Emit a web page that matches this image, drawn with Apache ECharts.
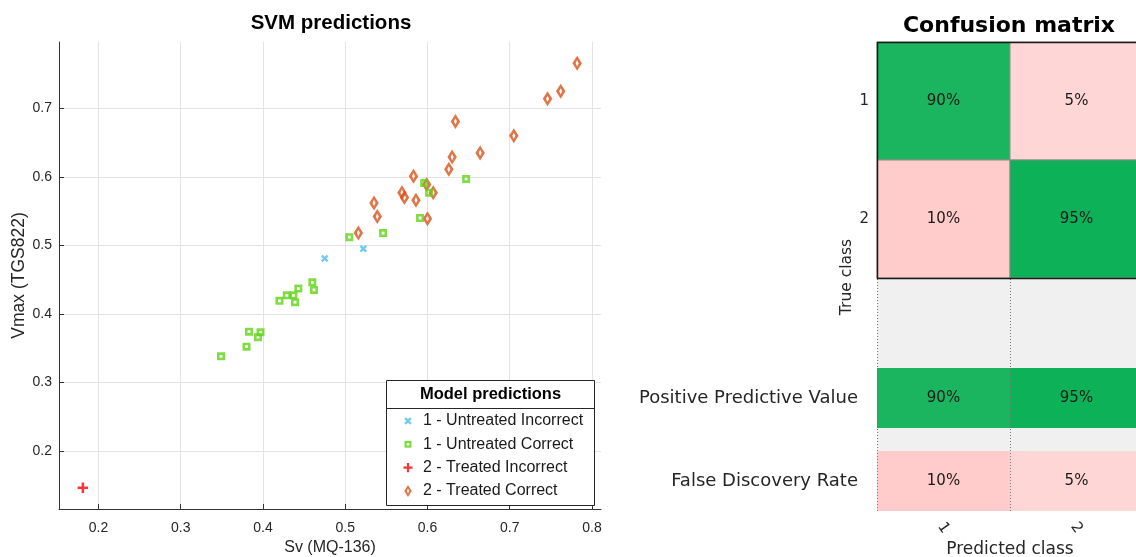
<!DOCTYPE html>
<html>
<head>
<meta charset="utf-8">
<script src="https://cdn.jsdelivr.net/npm/echarts@6/dist/echarts.min.js"></script>
<style>
html, body { margin: 0; padding: 0; background: #fff; }
#main { width: 1136px; height: 557px; }
</style>
</head>
<body>
<div id="main"></div>
<script>
// SVM predictions, [Sv (MQ-136), Vmax (TGS822)]
var untreatedIncorrect = [[0.475, 0.481], [0.522, 0.495]];
var untreatedCorrect = [
  [0.596, 0.591], [0.602, 0.577], [0.647, 0.597], [0.591, 0.540], [0.546, 0.518],
  [0.505, 0.512], [0.460, 0.446], [0.462, 0.435], [0.443, 0.437], [0.437, 0.427],
  [0.429, 0.427], [0.420, 0.419], [0.439, 0.417], [0.383, 0.374], [0.397, 0.373],
  [0.394, 0.366], [0.380, 0.352], [0.349, 0.338]
];
var treatedIncorrect = [[0.181, 0.146]];
var treatedCorrect = [
  [0.782, 0.766], [0.762, 0.725], [0.746, 0.714], [0.634, 0.681], [0.705, 0.660],
  [0.664, 0.635], [0.630, 0.629], [0.626, 0.611], [0.583, 0.601], [0.569, 0.577],
  [0.572, 0.570], [0.599, 0.589], [0.607, 0.577], [0.586, 0.566], [0.535, 0.562],
  [0.539, 0.542], [0.600, 0.539], [0.516, 0.518]
];
var seriesNames = ['1 - Untreated Incorrect', '1 - Untreated Correct', '2 - Treated Incorrect', '2 - Treated Correct'];

// confusion matrix (rows = true class, cols = predicted class), in %
var classLabels = ['1', '2'];
var confusionPct = [[90, 5], [10, 95]];
var ppvPct = [90, 95];
var fdrPct = [10, 5];
var summaryLabels = ['Positive Predictive Value', 'False Discovery Rate'];

var leftFont = 'Liberation Sans, Arial, sans-serif';
var rightFont = 'DejaVu Sans, Verdana, sans-serif';
var ink = '#262626';

// marker shapes as filled outlines (so stroke width does not depend on scaling)
var xShape = 'M0,1.6L1.6,0L3.5,1.9L5.4,0L7,1.6L5.1,3.5L7,5.4L5.4,7L3.5,5.1L1.6,7L0,5.4L1.9,3.5Z';
var plusShape = 'M3.8,0H6.2V3.8H10V6.2H6.2V10H3.8V6.2H0V3.8H3.8Z';
var squareShape = 'M0,0H8V8H0ZM2.6,2.6V5.4H5.4V2.6Z';
var diamondShape = 'M4.5,0L9,7.25L4.5,14.5L0,7.25ZM4.5,4.2L3.1,7.25L4.5,10.3L5.9,7.25Z';

function greenOf(v) {
  var d = 100 - v;
  return 'rgb(' + Math.round(d * 2.6) + ',' + Math.round(173 + d * 0.8) + ',' + Math.round(80 + d * 1.4) + ')';
}
function pinkOf(v) {
  var g = Math.round(225 - v * 2.2);
  return 'rgb(255,' + g + ',' + g + ')';
}

function cellRenderer(stroke) {
  return function (params, api) {
    var c = api.coord([api.value(0), api.value(1)]);
    var s = api.size([1, 1]);
    var v = api.value(2);
    var good = api.value(3) === 1;
    return {
      type: 'group',
      children: [{
        type: 'rect',
        shape: { x: c[0] - s[0] / 2, y: c[1] - s[1] / 2, width: s[0], height: s[1] },
        style: { fill: good ? greenOf(v) : pinkOf(v), stroke: stroke, lineWidth: stroke ? 1 : 0 }
      }, {
        type: 'text',
        style: {
          text: v + '%', x: c[0], y: c[1], align: 'center', verticalAlign: 'middle',
          font: '15px ' + rightFont, fill: '#1a1a1a'
        }
      }]
    };
  };
}

var matrixData = [];
confusionPct.forEach(function (row, r) {
  row.forEach(function (v, c) { matrixData.push([c, r, v, r === c ? 1 : 0]); });
});
var ppvData = ppvPct.map(function (v, c) { return [c, 0, v, 1]; });
var fdrData = fdrPct.map(function (v, c) { return [c, 0, v, 0]; });

function tenths(v) {
  return Math.abs(v * 10 - Math.round(v * 10)) < 1e-6 ? v.toFixed(1) : '';
}

var hiddenCat = {
  type: 'category', data: classLabels, axisLine: { show: false }, axisTick: { show: false },
  axisLabel: { show: false }, splitLine: { show: false }
};

var myChart = echarts.init(document.getElementById('main'));
var option = {
  animation: false,
  backgroundColor: '#fff',
  title: [{
    text: 'SVM predictions', left: 331, top: 13, padding: 0, textAlign: 'center',
    textStyle: { fontFamily: leftFont, fontSize: 20.5, fontWeight: 'bold', color: '#000' }
  }, {
    text: 'Confusion matrix', left: 1009, top: 15, padding: 0, textAlign: 'center',
    textStyle: { fontFamily: rightFont, fontSize: 22, fontWeight: 'bold', color: '#000' }
  }],
  legend: {
    orient: 'vertical', left: 403, top: 412.5, padding: 0,
    itemWidth: 10, itemHeight: 13, itemGap: 6.3, selectedMode: false, z: 20,
    data: [
      { name: seriesNames[0], icon: 'path://M-1.2,-2.6M8.2,9.6' + xShape },
      { name: seriesNames[1], icon: 'path://M-1.71,-3.43M9.71,11.43' + squareShape },
      { name: seriesNames[2], icon: 'path://M-0.5,-1.5M10.5,11.5' + plusShape },
      { name: seriesNames[3], icon: 'path://M-1.54,-0.6M10.54,15.1' + diamondShape }
    ],
    textStyle: { fontFamily: leftFont, fontSize: 16, color: '#1a1a1a', padding: [0, 0, 0, 5], lineHeight: 17 }
  },
  grid: [
    { left: 59, top: 42, width: 542, height: 467, outerBoundsMode: 'none', containLabel: false },
    { left: 877, top: 42, width: 266, height: 236, outerBoundsMode: 'none', containLabel: false },
    { left: 877, top: 368, width: 266, height: 60, outerBoundsMode: 'none', containLabel: false },
    { left: 877, top: 451, width: 266, height: 60, outerBoundsMode: 'none', containLabel: false }
  ],
  xAxis: [{
    gridIndex: 0, type: 'value', min: 0.152, max: 0.811, splitNumber: 6,
    name: 'Sv (MQ-136)', nameLocation: 'middle', nameGap: 30,
    nameTextStyle: { fontFamily: leftFont, fontSize: 16, color: ink },
    axisLine: { show: true, lineStyle: { color: '#333', width: 1 } },
    axisTick: { show: true, inside: true, length: 5, lineStyle: { color: '#333' } },
    axisLabel: { formatter: tenths, fontFamily: leftFont, fontSize: 14, color: ink, margin: 12, showMinLabel: false, showMaxLabel: false },
    splitLine: { show: true, showMinLine: false, showMaxLine: false, lineStyle: { color: '#e3e3e3', width: 1 } }
  },
  Object.assign({ gridIndex: 1 }, hiddenCat),
  Object.assign({ gridIndex: 2 }, hiddenCat),
  {
    gridIndex: 3, type: 'category', data: classLabels,
    name: 'Predicted class', nameLocation: 'middle', nameGap: 30,
    nameTextStyle: { fontFamily: rightFont, fontSize: 17, color: ink },
    axisLine: { show: false }, axisTick: { show: false }, splitLine: { show: false },
    axisLabel: {
      rotate: -55, align: 'center', verticalAlign: 'middle',
      fontFamily: rightFont, fontSize: 15, color: ink, margin: 17
    }
  }],
  yAxis: [{
    gridIndex: 0, type: 'value', min: 0.115, max: 0.797, splitNumber: 7,
    name: 'Vmax (TGS822)', nameLocation: 'middle', nameGap: 28,
    nameTextStyle: { fontFamily: leftFont, fontSize: 17.5, color: ink },
    axisLine: { show: true, lineStyle: { color: '#333', width: 1 } },
    axisTick: { show: true, inside: true, length: 5, lineStyle: { color: '#333' } },
    axisLabel: { formatter: tenths, fontFamily: leftFont, fontSize: 14, color: ink, margin: 7, showMinLabel: false, showMaxLabel: false },
    splitLine: { show: true, showMinLine: false, showMaxLine: false, lineStyle: { color: '#e3e3e3', width: 1 } }
  }, {
    gridIndex: 1, type: 'category', data: classLabels, inverse: true,
    axisLine: { show: false }, axisTick: { show: false }, splitLine: { show: false },
    axisLabel: { fontFamily: rightFont, fontSize: 15, color: ink, margin: 8 }
  }, {
    gridIndex: 2, type: 'category', data: [summaryLabels[0]],
    axisLine: { show: false }, axisTick: { show: false }, splitLine: { show: false },
    axisLabel: { fontFamily: rightFont, fontSize: 18, color: ink, margin: 19 }
  }, {
    gridIndex: 3, type: 'category', data: [summaryLabels[1]],
    axisLine: { show: false }, axisTick: { show: false }, splitLine: { show: false },
    axisLabel: { fontFamily: rightFont, fontSize: 18, color: ink, margin: 19 }
  }],
  graphic: [
    // grey backdrop under the summary rows
    { type: 'rect', z: 0, silent: true, shape: { x: 877, y: 279, width: 270, height: 232 }, style: { fill: '#f0f0f0' } },
    { type: 'line', z: 50, silent: true, shape: { x1: 877.5, y1: 279, x2: 877.5, y2: 511 }, style: { stroke: '#777', lineWidth: 1, lineDash: [1, 2] } },
    { type: 'line', z: 50, silent: true, shape: { x1: 1010.5, y1: 279, x2: 1010.5, y2: 511 }, style: { stroke: '#777', lineWidth: 1, lineDash: [1, 2] } },
    { type: 'rect', z: 50, silent: true, shape: { x: 877.5, y: 42.5, width: 270, height: 236 }, style: { fill: 'none', stroke: '#1a1a1a', lineWidth: 1.5 } },
    {
      type: 'text', z: 50, silent: true, x: 847, y: 277, rotation: Math.PI / 2,
      style: { text: 'True class', align: 'center', verticalAlign: 'middle', font: '15.5px ' + rightFont, fill: ink }
    },
    // legend box
    { type: 'rect', z: 10, silent: true, shape: { x: 386.5, y: 380.5, width: 208, height: 125 }, style: { fill: '#fff', stroke: '#262626', lineWidth: 1 } },
    { type: 'line', z: 11, silent: true, shape: { x1: 386.5, y1: 408.5, x2: 594.5, y2: 408.5 }, style: { stroke: '#262626', lineWidth: 1 } },
    {
      type: 'text', z: 11, silent: true, x: 490.5, y: 394.5,
      style: { text: 'Model predictions', align: 'center', verticalAlign: 'middle', font: 'bold 16.5px ' + leftFont, fill: '#000' }
    }
  ],
  series: [{
    name: seriesNames[0], type: 'scatter', xAxisIndex: 0, yAxisIndex: 0, z: 4,
    data: untreatedIncorrect, symbol: 'path://' + xShape, symbolSize: 7.5,
    itemStyle: { color: '#4dbeee' }
  }, {
    name: seriesNames[1], type: 'scatter', xAxisIndex: 0, yAxisIndex: 0, z: 3,
    data: untreatedCorrect, symbol: 'path://' + squareShape, symbolSize: 8,
    itemStyle: { color: '#5fd414' }
  }, {
    name: seriesNames[2], type: 'scatter', xAxisIndex: 0, yAxisIndex: 0, z: 4,
    data: treatedIncorrect, symbol: 'path://' + plusShape, symbolSize: 10.5,
    itemStyle: { color: '#ff0000' }
  }, {
    name: seriesNames[3], type: 'scatter', xAxisIndex: 0, yAxisIndex: 0, z: 2,
    data: treatedCorrect, symbol: 'path://' + diamondShape, symbolSize: [9.5, 15],
    itemStyle: { color: '#d95319' }
  }, {
    type: 'custom', xAxisIndex: 1, yAxisIndex: 1, z: 2,
    renderItem: cellRenderer('#8c8c8c'), data: matrixData
  }, {
    type: 'custom', xAxisIndex: 2, yAxisIndex: 2, z: 2,
    renderItem: cellRenderer(null), data: ppvData
  }, {
    type: 'custom', xAxisIndex: 3, yAxisIndex: 3, z: 2,
    renderItem: cellRenderer(null), data: fdrData
  }]
};
myChart.setOption(option);
</script>
</body>
</html>
